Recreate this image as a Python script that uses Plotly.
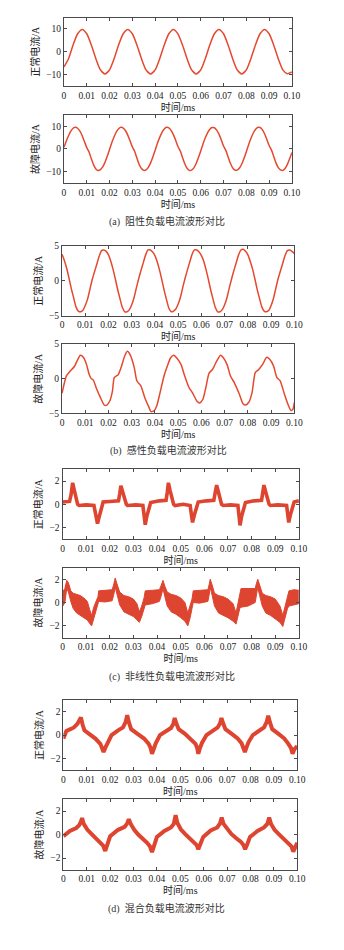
import plotly.graph_objects as go

# ---------------- data ----------------
x_tick_vals = [0, 0.01, 0.02, 0.03, 0.04, 0.05, 0.06, 0.07, 0.08, 0.09, 0.10]
x_tick_text = ["0", "0.01", "0.02", "0.03", "0.04", "0.05", "0.06", "0.07", "0.08", "0.09", "0.10"]

captions = ["(a)  阻性负载电流波形对比", "(b)  感性负载电流波形对比",
            "(c)  非线性负载电流波形对比", "(d)  混合负载电流波形对比"]
y_titles = ["正常电流/A", "故障电流/A"] * 4
x_title = "时间/ms"

# (a) resistive, normal: t = 0 .. 0.1 step 0.002
t_a1 = [round(i * 0.002, 4) for i in range(51)]
v_a1 = [-6.6, -3.0, 3.0, 7.9, 9.8, 7.9, 3.0, -3.0, -7.9, -9.7,
        -7.9, -3.0, 3.1, 7.9, 9.8, 7.9, 3.0, -3.0, -7.9, -9.7,
        -7.9, -3.0, 3.0, 7.9, 9.8, 7.9, 3.0, -3.0, -7.9, -9.7,
        -7.9, -3.0, 3.1, 7.9, 9.8, 7.9, 3.0, -3.0, -7.9, -9.7,
        -7.9, -3.0, 3.0, 7.9, 9.8, 7.9, 3.0, -3.0, -7.9, -9.6,
        -8.8]

# (a) resistive, fault: step 0.001
t_a2 = [round(i * 0.001, 4) for i in range(101)]
v_a2 = [0.8, 3.4, 5.8, 7.8, 9.1, 9.5, 9.1, 7.8, 5.8, 3.2, 0.6, -1.3, -4.3, -7.0, -8.8, -9.5, -9.1, -7.9, -5.9, -3.2,
        -0.2, 2.8, 5.4, 7.5, 8.9, 9.5, 9.2, 8.0, 6.1, 3.5, 0.9, -1.0, -4.0, -6.8, -8.6, -9.4, -9.2, -8.1, -6.1, -3.5,
        -0.6, 2.5, 5.1, 7.3, 8.8, 9.5, 9.3, 8.2, 6.3, 3.8, 1.1, -0.8, -3.7, -6.5, -8.5, -9.4, -9.3, -8.3, -6.4, -3.8,
        -0.9, 2.2, 4.9, 7.1, 8.7, 9.4, 9.3, 8.3, 6.5, 4.0, 1.3, -0.6, -3.5, -6.3, -8.3, -9.3, -9.3, -8.4, -6.6, -4.1,
        -1.2, 1.9, 4.6, 6.9, 8.6, 9.4, 9.4, 8.5, 6.7, 4.2, 1.5, -0.4, -3.2, -6.1, -8.2, -9.2, -9.4, -8.6, -6.8, -4.3,
        -1.5]

# (b) inductive, normal: step 0.001
t_b1 = [round(i * 0.001, 4) for i in range(101)]
v_b1 = [3.8, 2.9, 1.8, 0.4, -1.1, -2.4, -3.7, -4.3, -4.4, -4.2, -3.5, -2.6, -1.2, 0.2, 1.3, 2.4, 3.5, 4.3, 4.4, 4.2,
        3.7, 2.8, 1.6, 0.2, -1.3, -2.6, -3.8, -4.4, -4.4, -4.1, -3.4, -2.4, -1.0, 0.3, 1.5, 2.6, 3.7, 4.4, 4.4, 4.1,
        3.6, 2.7, 1.5, 0.1, -1.4, -2.7, -3.9, -4.4, -4.3, -4.0, -3.3, -2.3, -0.9, 0.4, 1.6, 2.7, 3.8, 4.4, 4.4, 4.1,
        3.6, 2.8, 1.6, 0.2, -1.3, -2.6, -3.8, -4.4, -4.4, -4.1, -3.4, -2.4, -1.0, 0.3, 1.5, 2.6, 3.7, 4.4, 4.5, 4.2,
        3.7, 2.8, 1.7, 0.3, -1.2, -2.5, -3.7, -4.3, -4.4, -4.2, -3.5, -2.5, -1.1, 0.3, 1.4, 2.5, 3.6, 4.3, 4.4, 4.2,
        3.9]

# (b) inductive, fault
t_b2 = [0.0000, 0.0019, 0.0033, 0.0054, 0.0068, 0.0079, 0.0092, 0.0106, 0.0117, 0.0125, 0.0135, 0.0147, 0.0165,
        0.0182, 0.0193, 0.0207, 0.0217, 0.0225, 0.0242, 0.0256, 0.0269, 0.0281, 0.0294, 0.0311, 0.0322, 0.0339,
        0.0356, 0.0374, 0.0383, 0.0397, 0.0408, 0.0422, 0.0439, 0.0453, 0.0467, 0.0481, 0.0494, 0.0513, 0.0526,
        0.0547, 0.0561, 0.0582, 0.0592, 0.0606, 0.0619, 0.0633, 0.0647, 0.0665, 0.0682, 0.0693, 0.0711, 0.0725,
        0.0742, 0.0763, 0.0779, 0.0790, 0.0804, 0.0818, 0.0832, 0.0846, 0.0864, 0.0881, 0.0894, 0.0911, 0.0925,
        0.0939, 0.0957, 0.0975, 0.0986, 0.0994, 0.1000]
v_b2 = [-2.1, 0.4, 1.0, 1.8, 2.8, 3.4, 3.1, 2.0, 0.6, 0.05, -0.2, -1.3, -2.7,
        -3.8, -3.8, -3.1, -1.8, 0.15, 0.6, 1.8, 3.2, 3.95, 3.4, 1.6, -0.3, -1.0,
        -2.7, -4.1, -4.75, -4.6, -3.9, -2.0, 0.4, 1.8, 3.0, 3.4, 3.0, 2.0, 0.6,
        -1.3, -2.0, -3.3, -3.5, -3.0, -1.3, 0.8, 1.3, 2.5, 3.4, 3.1, 2.0, 0.4,
        -0.6, -2.2, -3.6, -3.8, -3.4, -2.0, 0.9, 1.3, 2.1, 3.1, 2.8, 1.8, 0.15,
        -0.3, -2.2, -3.9, -4.6, -4.4, -3.4]

# (c) nonlinear, normal (centre of the noisy trace)
t_c1 = [0.0000, 0.0015, 0.0030, 0.0036, 0.0043, 0.0050, 0.0057, 0.0064, 0.0070, 0.0100, 0.0133, 0.0140, 0.0148,
        0.0156, 0.0165, 0.0172, 0.0200, 0.0237, 0.0242, 0.0247, 0.0254, 0.0262, 0.0270, 0.0275, 0.0310, 0.0340,
        0.0345, 0.0350, 0.0357, 0.0366, 0.0373, 0.0410, 0.0438, 0.0443, 0.0448, 0.0455, 0.0463, 0.0470, 0.0476,
        0.0510, 0.0540, 0.0545, 0.0550, 0.0558, 0.0567, 0.0574, 0.0610, 0.0640, 0.0646, 0.0652, 0.0659, 0.0667,
        0.0673, 0.0680, 0.0710, 0.0742, 0.0746, 0.0751, 0.0758, 0.0767, 0.0774, 0.0810, 0.0842, 0.0847, 0.0852,
        0.0859, 0.0867, 0.0874, 0.0880, 0.0910, 0.0948, 0.0952, 0.0957, 0.0964, 0.0973, 0.0980, 0.1000]
v_c1 = [0.2, 0.2, 0.25, 0.8, 1.85, 1.2, 0.6, 0.0, -0.1, -0.05, -0.1, -0.8, -1.65,
        -1.0, -0.3, 0.2, 0.25, 0.3, 0.9, 1.6, 1.1, 0.4, 0.0, -0.1, -0.05, -0.1,
        -0.8, -1.75, -1.0, -0.3, 0.15, 0.3, 0.35, 1.0, 1.85, 1.2, 0.5, 0.0, -0.1,
        0.0, -0.1, -0.8, -1.55, -0.9, -0.2, 0.2, 0.3, 0.35, 1.0, 1.65, 1.1, 0.4,
        0.0, -0.1, -0.05, -0.1, -0.9, -1.8, -1.0, -0.3, 0.15, 0.3, 0.35, 1.0, 1.65,
        1.1, 0.4, 0.0, -0.1, -0.05, -0.1, -0.8, -1.55, -0.9, -0.2, 0.2, 0.3]

# (c) nonlinear, fault: upper / lower edge of the noisy band
t_c2 = [0.0000, 0.0010, 0.0018, 0.0025, 0.0035, 0.0045, 0.0060, 0.0075, 0.0090, 0.0105, 0.0115, 0.0123, 0.0132,
        0.0142, 0.0150, 0.0153, 0.0180, 0.0210, 0.0216, 0.0223, 0.0232, 0.0242, 0.0260, 0.0280, 0.0300, 0.0315,
        0.0325, 0.0335, 0.0345, 0.0350, 0.0380, 0.0410, 0.0418, 0.0425, 0.0433, 0.0443, 0.0460, 0.0480, 0.0500,
        0.0518, 0.0530, 0.0540, 0.0548, 0.0553, 0.0580, 0.0615, 0.0620, 0.0625, 0.0633, 0.0643, 0.0660, 0.0680,
        0.0700, 0.0722, 0.0734, 0.0742, 0.0750, 0.0755, 0.0785, 0.0815, 0.0820, 0.0826, 0.0834, 0.0845, 0.0860,
        0.0880, 0.0900, 0.0920, 0.0932, 0.0942, 0.0952, 0.0958, 0.0980, 0.1000]
u_c2 = [0.9, 1.2, 1.9, 1.7, 1.0, 0.8, 0.7, 0.6, 0.4, 0.1, -0.6, -1.1, -0.4,
        0.2, 0.5, 1.0, 1.05, 1.1, 1.5, 2.1, 1.5, 0.9, 0.6, 0.5, 0.3, -0.1,
        -0.8, -0.3, 0.4, 1.0, 1.05, 1.1, 1.5, 1.9, 1.4, 0.9, 0.7, 0.6, 0.4,
        0.0, -0.9, -0.3, 0.3, 1.0, 1.05, 1.1, 1.5, 2.0, 1.5, 0.8, 0.6, 0.5,
        0.3, -0.1, -0.9, -0.2, 0.6, 1.2, 1.2, 1.2, 1.6, 2.0, 1.5, 0.8, 0.6,
        0.5, 0.3, -0.3, -1.1, -0.3, 0.4, 1.0, 1.1, 1.05]
l_c2 = [-0.35, 0.0, 1.2, 0.9, 0.1, -0.5, -0.9, -1.1, -1.3, -1.5, -1.8, -2.0, -1.4,
        -0.7, -0.2, 0.1, 0.05, 0.15, 0.6, 1.3, 0.6, -0.2, -0.8, -1.0, -1.2, -1.5,
        -1.7, -1.2, -0.5, -0.2, -0.1, 0.1, 0.6, 1.2, 0.5, -0.3, -0.8, -1.0, -1.3,
        -1.6, -2.0, -1.3, -0.5, 0.0, -0.05, 0.1, 0.6, 1.3, 0.6, -0.3, -0.9, -1.1,
        -1.3, -1.6, -1.85, -1.2, -0.5, -0.4, -0.3, 0.0, 0.7, 1.3, 0.6, -0.3, -0.9,
        -1.1, -1.4, -1.7, -2.05, -1.3, -0.5, -0.3, -0.2, -0.1]

# (d) mixed, normal (centre of the noisy trace)
t_d1 = [0.0000, 0.0013, 0.0030, 0.0045, 0.0060, 0.0068, 0.0075, 0.0082, 0.0090, 0.0110, 0.0137, 0.0158, 0.0166,
        0.0172, 0.0179, 0.0188, 0.0206, 0.0234, 0.0255, 0.0266, 0.0273, 0.0280, 0.0290, 0.0317, 0.0345, 0.0365,
        0.0373, 0.0379, 0.0386, 0.0395, 0.0413, 0.0440, 0.0460, 0.0470, 0.0476, 0.0483, 0.0493, 0.0520, 0.0545,
        0.0565, 0.0572, 0.0577, 0.0584, 0.0593, 0.0612, 0.0640, 0.0660, 0.0670, 0.0676, 0.0683, 0.0693, 0.0720,
        0.0745, 0.0762, 0.0770, 0.0776, 0.0783, 0.0792, 0.0810, 0.0838, 0.0858, 0.0869, 0.0876, 0.0883, 0.0893,
        0.0920, 0.0945, 0.0962, 0.0973, 0.0980, 0.0988, 0.1000]
v_d1 = [-0.3, 0.35, 0.5, 0.65, 0.95, 1.2, 1.5, 0.9, 0.4, 0.1, -0.3, -0.75, -1.1,
        -1.45, -1.1, -0.7, 0.0, 0.4, 0.65, 1.1, 1.7, 1.1, 0.5, 0.1, -0.3, -0.75,
        -1.1, -1.6, -1.1, -0.7, 0.0, 0.35, 0.6, 0.95, 1.45, 1.0, 0.5, 0.1, -0.35,
        -0.75, -1.1, -1.6, -1.1, -0.65, 0.0, 0.4, 0.65, 1.0, 1.45, 1.0, 0.5, 0.1,
        -0.3, -0.7, -1.05, -1.45, -1.05, -0.6, 0.0, 0.4, 0.65, 1.1, 1.65, 1.1, 0.5,
        0.1, -0.3, -0.75, -1.1, -1.6, -1.2, -0.95]

# (d) mixed, fault (centre of the noisy trace)
t_d2 = [0.0000, 0.0028, 0.0055, 0.0068, 0.0075, 0.0080, 0.0087, 0.0103, 0.0120, 0.0138, 0.0159, 0.0170, 0.0179,
        0.0187, 0.0200, 0.0234, 0.0262, 0.0273, 0.0280, 0.0288, 0.0303, 0.0320, 0.0338, 0.0358, 0.0370, 0.0379,
        0.0387, 0.0400, 0.0432, 0.0460, 0.0472, 0.0480, 0.0487, 0.0502, 0.0520, 0.0538, 0.0558, 0.0570, 0.0577,
        0.0585, 0.0598, 0.0630, 0.0658, 0.0670, 0.0677, 0.0685, 0.0700, 0.0718, 0.0738, 0.0758, 0.0770, 0.0777,
        0.0785, 0.0798, 0.0830, 0.0858, 0.0872, 0.0880, 0.0888, 0.0903, 0.0920, 0.0938, 0.0958, 0.0975, 0.0983,
        0.0992, 0.1000]
v_d2 = [-0.15, 0.3, 0.55, 0.8, 1.1, 1.4, 0.9, 0.4, 0.05, -0.3, -0.65, -0.95, -1.4,
        -0.9, -0.15, 0.4, 0.65, 0.95, 1.3, 0.9, 0.4, 0.0, -0.3, -0.7, -1.0, -1.5,
        -1.0, -0.2, 0.3, 0.6, 0.9, 1.65, 1.0, 0.45, 0.05, -0.3, -0.6, -0.9, -1.25,
        -0.9, -0.2, 0.35, 0.6, 0.95, 1.45, 0.9, 0.45, 0.05, -0.3, -0.6, -0.9, -1.25,
        -0.9, -0.2, 0.3, 0.6, 0.9, 1.45, 0.9, 0.4, 0.05, -0.3, -0.65, -1.0, -1.45,
        -1.0, -0.7]

y_ranges = [[-15, 15], [-15, 15], [-5, 5], [-5, 5], [-3, 3], [-3, 3], [-3, 3], [-3, 3]]
y_ticks = [[-10, 0, 10], [-10, 0, 10], [-5, 0, 5], [-5, 0, 5],
           [-2, 0, 2], [-2, 0, 2], [-2, 0, 2], [-2, 0, 2]]

for a, b in [(t_a1, v_a1), (t_a2, v_a2), (t_b1, v_b1), (t_b2, v_b2), (t_c1, v_c1),
             (t_c2, u_c2), (t_c2, l_c2), (t_d1, v_d1), (t_d2, v_d2)]:
    assert len(a) == len(b), (len(a), len(b))

# ---------------- layout (pixels) ----------------
W, H = 344, 950
panel_px = [  # (left, right, top, bottom)
    (64.0, 299.5, 12.7, 82.0),
    (64.0, 299.5, 111.0, 180.0),
    (62.0, 302.0, 243.3, 314.3),
    (62.0, 302.0, 342.7, 412.7),
    (62.5, 306.7, 469.3, 540.0),
    (62.5, 306.7, 568.5, 639.3),
    (63.4, 305.0, 702.3, 773.3),
    (63.4, 305.0, 802.7, 874.0),
]
caption_px = [(170, 218.7), (172, 450.0), (176, 679.0), (170, 913.0)]

RED = "#E4492E"
RED_N = "#DE4530"
SERIF = "Liberation Serif, Noto Sans CJK SC"
AX = "#4a4a4a"

fig = go.Figure()

def add_line(i, t, v, width, color, shape="spline"):
    ax = "" if i == 0 else str(i + 1)
    fig.add_trace(go.Scatter(x=t, y=v, mode="lines", xaxis="x" + ax, yaxis="y" + ax,
                             line=dict(color=color, width=width, shape=shape, smoothing=0.6),
                             showlegend=False, hoverinfo="skip"))

add_line(0, t_a1, v_a1, 1.5, RED)
add_line(1, t_a2, v_a2, 1.5, RED)
add_line(2, t_b1, v_b1, 1.5, RED)
add_line(3, t_b2, v_b2, 1.5, RED)
add_line(4, t_c1, v_c1, 3.6, RED_N, "linear")
# fault nonlinear: filled band
fig.add_trace(go.Scatter(x=t_c2, y=l_c2, mode="lines", xaxis="x6", yaxis="y6",
                         line=dict(color=RED_N, width=1), showlegend=False, hoverinfo="skip"))
fig.add_trace(go.Scatter(x=t_c2, y=u_c2, mode="lines", xaxis="x6", yaxis="y6", fill="tonexty",
                         fillcolor=RED_N, line=dict(color=RED_N, width=1),
                         showlegend=False, hoverinfo="skip"))
add_line(6, t_d1, v_d1, 4.0, RED_N, "linear")
add_line(7, t_d2, v_d2, 4.0, RED_N, "linear")

layout = dict(width=W, height=H, margin=dict(l=0, r=0, t=0, b=0),
              paper_bgcolor="white", plot_bgcolor="white",
              font=dict(family=SERIF, size=10, color="#222"))

for i, (l, r, t, b) in enumerate(panel_px):
    ax = "" if i == 0 else str(i + 1)
    common = dict(showline=True, linecolor=AX, linewidth=1, mirror="ticks",
                  ticks="inside", ticklen=3, tickcolor=AX, tickwidth=1,
                  showgrid=False, zeroline=False,
                  tickfont=dict(family=SERIF, size=9.5, color="#222"))
    layout["xaxis" + ax] = dict(domain=[l / W, r / W], anchor="y" + ax, range=[0, 0.1],
                                tickmode="array", tickvals=x_tick_vals, ticktext=x_tick_text,
                                title=dict(text=x_title, font=dict(family=SERIF, size=10, color="#222"),
                                           standoff=1),
                                **common)
    layout["yaxis" + ax] = dict(domain=[1 - b / H, 1 - t / H], anchor="x" + ax, range=y_ranges[i],
                                tickmode="array", tickvals=y_ticks[i],
                                title=dict(text=y_titles[i], font=dict(family=SERIF, size=10, color="#222"),
                                           standoff=4),
                                **common)

layout["annotations"] = [dict(text=c, x=px / W, y=1 - py / H, xref="paper", yref="paper",
                              xanchor="center", yanchor="middle", showarrow=False,
                              font=dict(family=SERIF, size=10, color="#333"))
                         for c, (px, py) in zip(captions, caption_px)]

fig.update_layout(**layout)
fig.write_html("out.html")
